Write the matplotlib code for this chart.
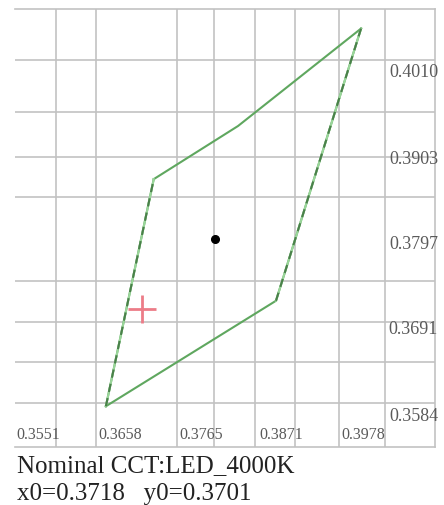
import matplotlib.pyplot as plt

plt.rcParams['font.family'] = ['Liberation Serif', 'DejaVu Serif']

# chromaticity window (x, y)
solid_x = [0.3671, 0.3895, 0.4007, 0.3845, 0.3734]
solid_y = [0.3580, 0.3711, 0.4049, 0.3928, 0.3862]
left_edge_x = [0.3671, 0.3734]
left_edge_y = [0.3580, 0.3862]
right_edge_x = [0.3895, 0.4007]
right_edge_y = [0.3711, 0.4049]

# measured point and nominal point
meas_x, meas_y = 0.3815, 0.3788
x0, y0 = 0.3718, 0.3701

# grid and tick labels
grid_x = [0.3605, 0.3658, 0.3765, 0.3813, 0.3867, 0.3920, 0.3978, 0.4039]
grid_y = [0.4010, 0.3945, 0.3890, 0.3840, 0.3736, 0.3685, 0.3635, 0.3584]
xtick_vals = [0.3551, 0.3658, 0.3765, 0.3871, 0.3978]
ytick_vals = [0.4010, 0.3903, 0.3797, 0.3691, 0.3584]
x_lim = (0.35513, 0.41044)
y_lim = (0.35294, 0.40733)

cct_name = 'LED_4000K'

fig = plt.figure(figsize=(4.44, 5.06), dpi=100)
ax = fig.add_axes([15 / 444, 58 / 506, 420 / 444, 438 / 506])
ax.set_xlim(*x_lim)
ax.set_ylim(*y_lim)

grid_col = '#c2c2c2'
for gx in grid_x:
    ax.axvline(gx, color=grid_col, lw=1.2, zorder=0)
for gy in grid_y:
    ax.axhline(gy, color=grid_col, lw=1.2, zorder=0)

for s in ['top', 'right', 'bottom']:
    ax.spines[s].set_color(grid_col)
    ax.spines[s].set_linewidth(1.2)
ax.spines['left'].set_visible(False)
ax.set_xticks([])
ax.set_yticks([])

# window outline: solid top/bottom, dashed sides
ax.plot(solid_x[:3], solid_y[:3], color='#5fa75f', lw=1.5, zorder=2)
ax.plot(solid_x[2:], solid_y[2:], color='#5fa75f', lw=1.5, zorder=2)
ax.plot([solid_x[-1], solid_x[0]], [solid_y[-1], solid_y[0]], color='#5fa75f', lw=1.5, zorder=2)
for ex, ey in [(left_edge_x, left_edge_y), (right_edge_x, right_edge_y)]:
    ax.plot(ex, ey, color='#9ad69a', lw=1.5, zorder=2)
    ax.plot(ex, ey, color='#4a804a', lw=1.5, dashes=(4, 3), zorder=3)

ax.plot(meas_x, meas_y, 'o', color='black', markersize=5.5, zorder=4)
ax.plot(x0, y0, '+', color='#ec7c88', markersize=20, mew=2, zorder=4)

for v in xtick_vals:
    ax.annotate('%.4f' % v, xy=(v, 0), xycoords=('data', 'axes fraction'),
                xytext=(2, 13), textcoords='offset pixels',
                ha='left', va='center', fontsize=11.5, color='#5a5a5a')
for v in ytick_vals:
    ax.annotate('%.4f' % v, xy=(1, v), xycoords=('axes fraction', 'data'),
                xytext=(3, -12), textcoords='offset pixels',
                ha='right', va='center', fontsize=13, color='#5a5a5a')

fig.text(17 / 444, 1 - 472 / 506, 'Nominal CCT:' + cct_name,
         fontsize=18, color='#222222', va='baseline')
fig.text(17 / 444, 1 - 500 / 506, 'x0=%.4f   y0=%.4f' % (x0, y0),
         fontsize=18, color='#222222', va='baseline')

fig.savefig('out.png', dpi=100)
